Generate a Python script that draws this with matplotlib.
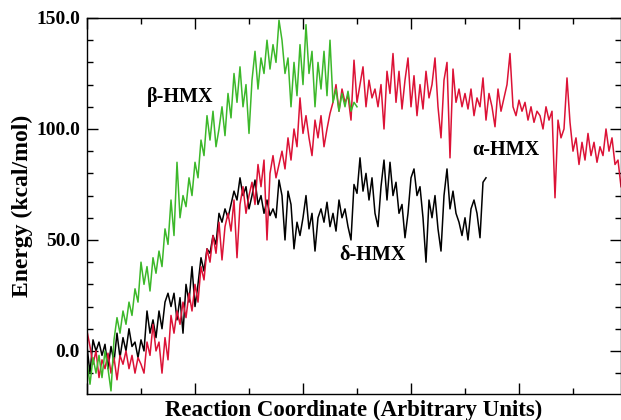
"""
Energy profiles along the reaction coordinate for three HMX polymorphs.
Values are read off the reference figure (one sample every 1/18 unit).
"""

import matplotlib
matplotlib.use("Agg")
import matplotlib.pyplot as plt
from matplotlib.ticker import MultipleLocator, FormatStrFormatter
import numpy as np

STEP = 1.0 / 18.0  # spacing of the samples along the reaction coordinate

# beta-HMX (green)
beta_hmx = [
    -5, -15, -3, -10, -2, -12, 0, -8, -18, 5, 15, 8, 18, 12, 22, 16, 28, 22,
    40, 30, 38, 27, 42, 35, 45, 38, 55, 48, 68, 52, 85, 60, 70, 65, 78, 70,
    85, 78, 95, 88, 106, 95, 108, 92, 100, 110, 97, 116, 105, 125, 112, 128,
    110, 120, 98, 122, 135, 118, 132, 125, 140, 127, 138, 130, 149, 140, 125,
    132, 110, 130, 115, 138, 120, 147, 125, 135, 110, 130, 118, 135, 115, 140,
    112, 118, 108, 116, 110, 117, 108, 112, 110,
]

# delta-HMX (black)
delta_hmx = [
    2, -10, 5, 0, 4, -2, 3, -8, 2, -5, 8, -3, 6, 0, 10, 2, 4, -3, 5, 0, 18, 8,
    14, 6, 18, 10, 22, 26, 20, 26, 14, 24, 8, 30, 22, 38, 20, 30, 42, 36, 46,
    44, 52, 48, 62, 58, 64, 60, 66, 72, 68, 78, 70, 74, 64, 70, 77, 66, 70, 62,
    68, 61, 64, 60, 77, 70, 50, 72, 66, 46, 58, 52, 60, 70, 55, 62, 45, 60, 64,
    58, 67, 56, 62, 54, 68, 60, 64, 56, 50, 75, 71, 87, 72, 80, 68, 78, 62, 56,
    74, 86, 68, 85, 70, 76, 62, 66, 51, 62, 78, 82, 70, 74, 60, 40, 68, 60, 70,
    55, 45, 70, 82, 64, 72, 62, 58, 52, 60, 50, 64, 68, 62, 51, 76, 78,
]

# alpha-HMX (red)
alpha_hmx = [
    9, 2, -6, 0, -12, -4, -8, -1, -10, -3, -13, -2, -6, 0, -8, -2, -10, -3, -6,
    -10, 4, -2, 12, 0, 4, -10, 6, -4, 16, 8, 18, 12, 22, 15, 26, 18, 30, 22, 38,
    32, 46, 40, 52, 44, 58, 41, 56, 62, 54, 68, 42, 66, 74, 62, 70, 76, 66, 84,
    74, 86, 50, 80, 88, 78, 84, 90, 82, 96, 86, 100, 92, 114, 98, 106, 96, 88,
    104, 96, 106, 92, 100, 107, 112, 120, 108, 118, 112, 115, 104, 131, 112,
    120, 128, 110, 122, 114, 118, 110, 120, 100, 126, 116, 134, 112, 126, 109,
    122, 132, 110, 124, 106, 120, 109, 126, 114, 120, 132, 110, 96, 122, 130,
    87, 127, 112, 118, 110, 116, 109, 118, 106, 114, 110, 123, 104, 116, 110,
    101, 118, 108, 114, 120, 134, 110, 106, 113, 108, 112, 104, 110, 103, 108,
    106, 100, 110, 104, 108, 69, 104, 96, 100, 123, 103, 90, 96, 84, 94, 86, 98,
    88, 94, 85, 92, 88, 100, 90, 96, 84, 86, 74,
]

labels = ["\u03b2-HMX", "\u03b1-HMX", "\u03b4-HMX"]
label_pos = [(1.72, 114.4), (7.76, 90.6), (5.28, 43.2)]

GREEN = "#3cb82a"
RED = "#dc1236"
SERIF = ["Liberation Serif", "DejaVu Serif"]


def main():
    fig = plt.figure(figsize=(6.21, 4.20), dpi=100)
    ax = fig.add_axes([87 / 621, 26 / 420, 533.5 / 621, 376 / 420])

    for ys, col in [(delta_hmx, "black"), (alpha_hmx, RED), (beta_hmx, GREEN)]:
        x = np.arange(len(ys)) * STEP
        ax.plot(x, ys, color=col, lw=1.1)

    for txt, (tx, ty) in zip(labels, label_pos):
        ax.text(tx, ty, txt, ha="center", va="center", fontsize=14.5,
                fontweight="bold", family=SERIF)

    ax.set_xlim(0, 533.5 / 54)
    ax.set_ylim(-19.4, 150)
    ax.xaxis.set_major_locator(MultipleLocator(2))
    ax.xaxis.set_minor_locator(MultipleLocator(1))
    ax.yaxis.set_major_locator(MultipleLocator(50))
    ax.yaxis.set_minor_locator(MultipleLocator(10))
    ax.yaxis.set_major_formatter(FormatStrFormatter("%.1f"))
    ax.tick_params(which="both", direction="in", top=True, right=True,
                   width=1.0, labelbottom=False)
    ax.tick_params(which="major", length=8, pad=5)
    ax.tick_params(which="minor", length=4.5)
    for lbl in ax.get_yticklabels():
        lbl.set_family(SERIF)
        lbl.set_fontweight("bold")
        lbl.set_fontsize(14)
    for sp in ax.spines.values():
        sp.set_linewidth(1.0)

    ax.set_xlabel("Reaction Coordinate (Arbitrary Units)", fontsize=16.5,
                  fontweight="bold", family=SERIF, labelpad=4)
    ax.set_ylabel("Energy (kcal/mol)", fontsize=17, fontweight="bold",
                  family=SERIF, labelpad=2)

    fig.savefig("out.png", dpi=100)
    plt.close(fig)


if __name__ == "__main__":
    main()
